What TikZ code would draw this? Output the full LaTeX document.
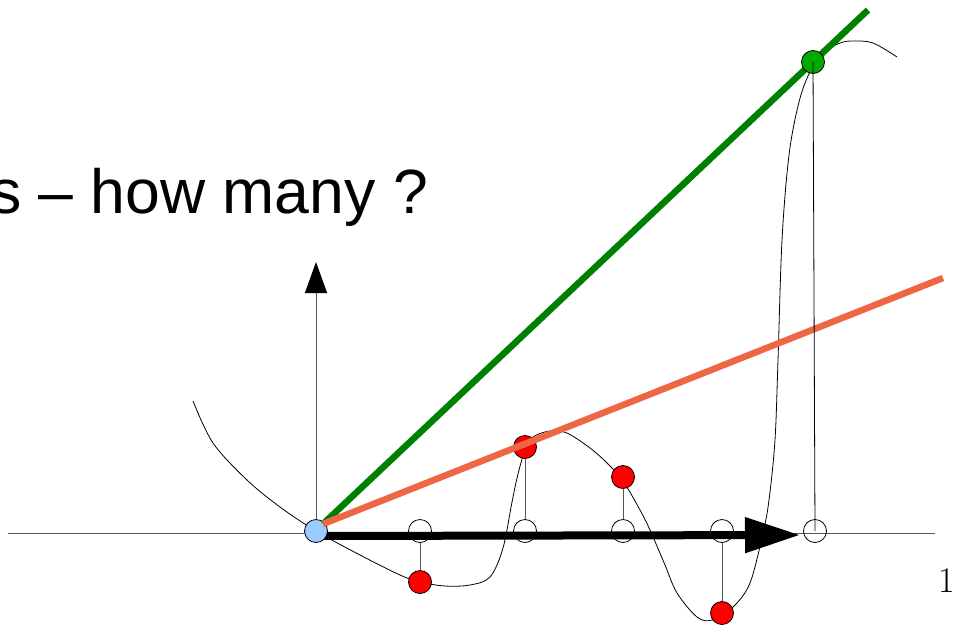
\documentclass[tikz,border=0pt]{standalone}
\usepackage{fontspec}
\setmainfont{Liberation Sans}
\newfontfamily\lmfont{Latin Modern Roman}
\usetikzlibrary{arrows.meta}
\definecolor{ptblue}{HTML}{99CCFF}
\definecolor{ptred}{HTML}{FF0000}
\definecolor{ptgreen}{HTML}{00AA00}
\definecolor{lngreen}{HTML}{008000}
\definecolor{lnorange}{HTML}{EE6644}
\definecolor{axgray}{HTML}{555555}
\tikzset{
  pt/.style={circle, draw=black, line width=0.8pt, minimum size=23pt, inner sep=0pt},
  emptypt/.style={pt, fill=white, fill opacity=0},
  redpt/.style={pt, fill=ptred},
  conn/.style={draw=axgray, line width=1pt},
  axis/.style={draw=axgray, line width=0.9pt},
  curve/.style={draw=black, line width=0.8pt},
  fatline/.style={line width=6.5pt, line cap=butt}
}
\begin{document}
\begin{tikzpicture}[x=1pt,y=-1pt]
\useasboundingbox (0,0) rectangle (953,627);
% axes
\coordinate (axL) at (8,533);
\coordinate (axR) at (935,533);
\draw[axis] (axL) -- (axR);
\coordinate (vtop) at (316,262);
\coordinate (o) at (316,531);
\draw[axis, -{Triangle[length=31pt,width=22pt,color=black]}] (o) -- (vtop);
% curve
\draw[curve] plot[smooth, tension=0.55] coordinates {
(193,401) (213,443) (247,480) (280,507) (316,531) (360,555) (400,575) (420,582)
(445,586) (470,585) (490,577) (503,548) (512,502) (518,474) (525,450) (533,437)
(550,431) (567,433) (590,448) (607,463) (623,481) (640,510) (650,530) (665,565)
(677,593) (697,617) (712,620) (733,607) (750,583) (763,533) (769,500) (775,440)
(778,360) (782,240) (789,155) (799,102) (810,72) (825,52) (840,43) (853,41)
(873,43) (897,57)};
% sample points
\node[emptypt] (e1) at (420,531) {};
\node[emptypt] (e2) at (525,531) {};
\node[emptypt] (e3) at (623,531) {};
\node[emptypt] (e4) at (722,531) {};
\node[emptypt] (e5) at (815,531) {};
\node[redpt] (r1) at (420,582) {};
\node[redpt] (r2) at (525,447) {};
\node[redpt] (r3) at (623,477) {};
\node[redpt] (r4) at (722,613) {};
\draw[conn] (e1.south) -- (r1.north);
\draw[conn] (e2.north) -- (r2.south);
\draw[conn] (e3.north) -- (r3.south);
\draw[conn] (e4.south) -- (r4.north);
% thick arrow
\coordinate (tip) at (800,535);
\draw[line width=8pt, -{Triangle[length=55pt,width=34pt]}] (318,536) -- (tip);
% lines
\coordinate (gend) at (868,10);
\coordinate (oend) at (943,278);
\node[pt, fill=ptblue] (b) at (316,531) {};
\draw[fatline, lngreen] (323,524) -- (gend);
\draw[fatline, lnorange] (323,524) -- (oend);
% green point on top of line
\node[pt, fill=ptgreen] (g) at (813,62) {};
\draw[black, line width=0.8pt] (e5.center) -- (g.center);
% text
\node[anchor=base west, inner sep=0pt, font=\fontsize{62.5}{62.5}\selectfont] (t) at (-10,213) {s – how many ?};
\node[anchor=base, inner sep=0pt, font=\lmfont\fontsize{36}{36}\selectfont] (one) at (947,592) {1};
\end{tikzpicture}
\end{document}
